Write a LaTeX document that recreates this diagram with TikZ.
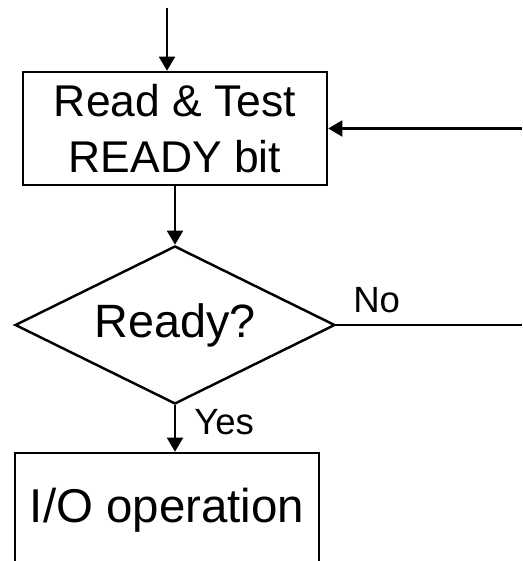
\documentclass[tikz,border=0pt]{standalone}
\usepackage{fontspec}
\setmainfont{Liberation Sans}
\usetikzlibrary{arrows.meta,shapes.geometric}

\tikzset{
  flowbox/.style={draw, line width=1.4pt, rectangle, align=center, inner sep=0pt},
  decision/.style={draw, line width=1.4pt, diamond, aspect=2, inner sep=0pt,
    minimum width=6.4cm, minimum height=3.16cm, font=\fontsize{26.6}{31}\selectfont},
  flowarrow/.style={line width=1.4pt, -{Triangle[length=8pt,width=9pt]}},
  flowline/.style={line width=1.4pt},
  answer/.style={inner sep=0pt, anchor=base west, font=\fontsize{20.8}{24}\selectfont}
}

\begin{document}
\begin{tikzpicture}
    % Frame
    \clip (0,0) rectangle (10.44,11.22);

    % Entry and loop-back points
    \coordinate (entry) at (3.34,11.06);
    \coordinate (back) at (10.44,8.65);
    \coordinate (noend) at (10.44,4.72);

    % Read & test
    \node[flowbox, minimum width=6.08cm, minimum height=2.26cm,
          font=\fontsize{25.3}{32.3}\selectfont] (readtest) at (3.5,8.65)
          {Read \& Test\\READY bit};

    % Decision
    \node[decision] (ready) at (3.5,4.72) {Ready?};

    % I/O operation
    \node[flowbox, minimum width=6.08cm, minimum height=2.28cm,
          font=\fontsize{27}{31}\selectfont] (io) at (3.34,1.02) {I/O operation};

    % Labels
    \node[answer] (nolbl) at (7.06,4.96) {No};
    \node[answer] (yeslbl) at (3.88,2.52) {Yes};

    % Connectors
    \draw[flowarrow] (entry) -- (entry |- readtest.north);
    \draw[flowarrow] (back) -- (readtest.east);
    \draw[flowarrow] (readtest.south -| ready.north) -- (ready.north);
    \draw[flowline] (ready.east) -- (noend);
    \draw[flowarrow] (ready.south) -- (ready.south |- io.north);
\end{tikzpicture}
\end{document}
